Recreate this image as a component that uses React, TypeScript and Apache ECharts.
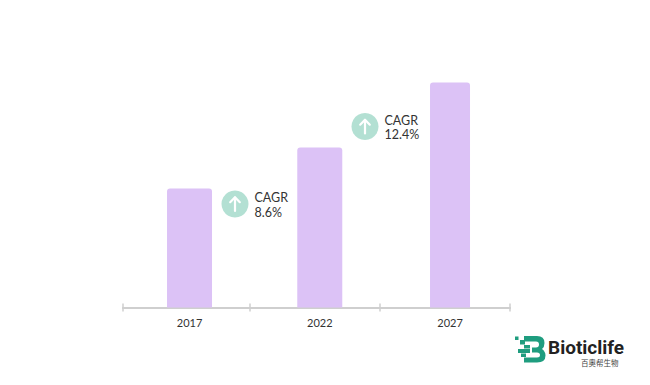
import React, { useEffect, useRef } from "react";
import * as echarts from "echarts";

const YEARS = ["2017", "2022", "2027"];
const BAR_VALUES = [119, 160, 225];
const BAR_WIDTHS = [45, 45, 40];
const AXIS_TICKS = [123, 250, 380, 510];
const CAGR_NOTES = [
  { value: "8.6%", cx: 235, cy: 204 },
  { value: "12.4%", cx: 365, cy: 126.5 },
];
const PURPLE = "#dcc2f6";
const MINT = "#b3e0d3";
const LOGO_GREEN = "#1f9d7f";
const AXIS_GREY = "#cfcfcf";
const FONT = "Lato";

const LOGO_D =
  "M9 0H22Q29.5 0 29.5 7Q29.5 11 27 13Q30.5 15.5 30.5 19.5Q30.5 26.5 22 26.5H9V21.5H22Q25 21.5 25 19Q25 16.5 22 16.5H17V11.5H21Q24 11.5 24 8.5Q24 5.5 21 5.5H9Z" +
  "M0 0.5H3.5V4H0Z M5 4H10V8.5H5Z M9 9H15V12.5H9Z M3 13H15V17H3Z M6 17.5H11V21H6Z";
echarts.graphic.registerShape("bioticLogo", echarts.graphic.extendPath(LOGO_D, {}));

function cagrGraphic(note: { value: string; cx: number; cy: number }) {
  const { cx, cy, value } = note;
  const arrowStyle = { stroke: "#ffffff", lineWidth: 2.2, fill: "none", lineCap: "round", lineJoin: "round" };
  return [
    { type: "circle", shape: { cx, cy, r: 13.5 }, style: { fill: MINT } },
    { type: "line", shape: { x1: cx, y1: cy + 7, x2: cx, y2: cy - 6.5 }, style: arrowStyle },
    {
      type: "polyline",
      shape: { points: [[cx - 4.8, cy - 1.8], [cx, cy - 6.8], [cx + 4.8, cy - 1.8]] },
      style: arrowStyle,
    },
    {
      type: "text",
      x: cx + 19.5,
      y: cy - 6.5,
      style: { text: "CAGR", font: `12.5px ${FONT}`, fill: "#333333", verticalAlign: "middle" },
    },
    {
      type: "text",
      x: cx + 19.5,
      y: cy + 8,
      style: { text: value, font: `12.5px ${FONT}`, fill: "#333333", verticalAlign: "middle" },
    },
  ];
}

export default function App() {
  const ref = useRef<HTMLDivElement>(null);
  useEffect(() => {
    const chart = echarts.init(ref.current!, undefined, { renderer: "svg" });
    const hiddenCat = {
      type: "category",
      gridIndex: 1,
      position: "bottom",
      data: YEARS,
      axisLine: { show: false },
      axisTick: { show: false },
      axisLabel: { show: false },
    };
    const ruler = (inside: boolean) => ({
      type: "value",
      gridIndex: 0,
      position: "bottom",
      min: AXIS_TICKS[0],
      max: AXIS_TICKS[AXIS_TICKS.length - 1],
      splitLine: { show: false },
      axisLine: { show: true, onZero: false, lineStyle: { color: AXIS_GREY, width: 2 } },
      axisTick: {
        show: true,
        inside,
        length: 4,
        customValues: AXIS_TICKS,
        lineStyle: { color: AXIS_GREY, width: 1.5 },
      },
      axisLabel: { show: false },
    });
    chart.setOption({
      animation: false,
      backgroundColor: "#ffffff",
      grid: [
        { left: 123, width: 387, top: 57.5, height: 250 },
        { left: 124.4, width: 390.75, top: 57.5, height: 250 },
      ],
      xAxis: [
        ruler(false),
        ruler(true),
        {
          ...hiddenCat,
          axisLabel: { show: true, color: "#333333", fontFamily: FONT, fontSize: 11, margin: 9 },
        },
        hiddenCat,
        hiddenCat,
      ],
      yAxis: [
        { type: "value", gridIndex: 0, min: 0, max: 250, show: false },
        { type: "value", gridIndex: 1, min: 0, max: 250, show: false },
      ],
      series: YEARS.map((year, i) => ({
        type: "bar",
        name: year,
        xAxisIndex: 2 + i,
        yAxisIndex: 1,
        barWidth: BAR_WIDTHS[i],
        data: BAR_VALUES.map((v, j) => (j === i ? v : "-")),
        itemStyle: { color: PURPLE, borderRadius: [3, 3, 0, 0] },
      })),
      graphic: [
        ...CAGR_NOTES.flatMap(cagrGraphic),
        { type: "bioticLogo", x: 515, y: 336, style: { fill: LOGO_GREEN } },
        {
          type: "text",
          x: 548,
          y: 347,
          style: {
            text: "Bioticlife",
            font: "bold 19px Roboto",
            fill: "#222222",
            verticalAlign: "middle",
          },
        },
        {
          type: "text",
          x: 581,
          y: 362.5,
          style: {
            text: "百奧帮生物",
            font: "7.5px 'Noto Sans CJK TC'",
            fill: "#444444",
            verticalAlign: "middle",
          },
        },
      ],
    });
    return () => chart.dispose();
  }, []);
  return (
    <div
      ref={ref}
      style={{ position: "fixed", left: 0, top: 0, width: 650, height: 385 }}
    />
  );
}
